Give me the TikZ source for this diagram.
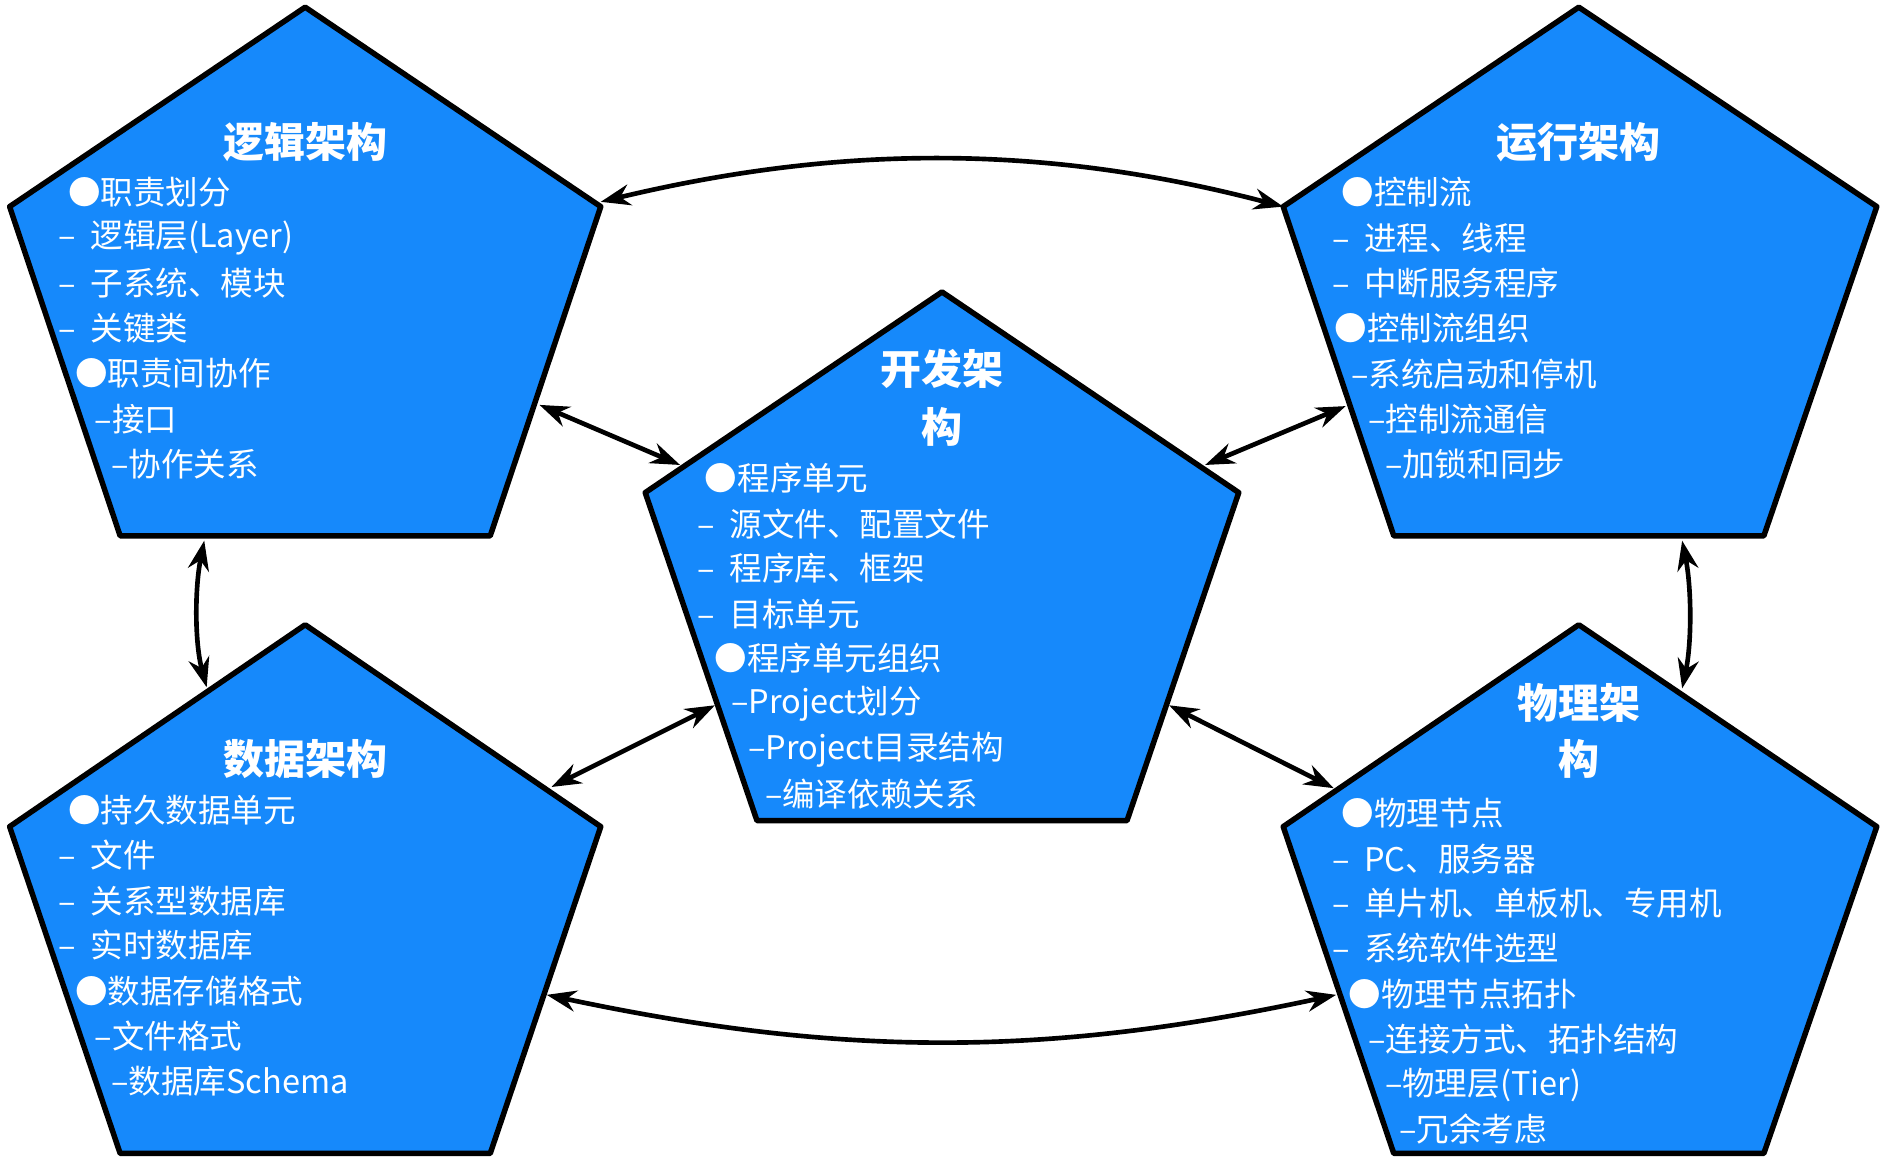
\documentclass[tikz,border=0pt]{standalone}
\usepackage{fontspec}
\setmainfont{Noto Sans CJK SC}
\usetikzlibrary{arrows.meta}
\definecolor{pent}{HTML}{1689FB}
\tikzset{
  pentagon/.style={fill=pent,draw=black,line width=1.3pt,line join=round},
  ln/.style={anchor=west,text=white,font=\fontsize{7.7pt}{9pt}\selectfont,inner sep=0pt},
  ttl/.style={text=white,font=\fontsize{9.7pt}{12pt}\selectfont\bfseries,inner sep=0pt},
  conn/.style={{Stealth[length=7pt,width=5pt]}-{Stealth[length=7pt,width=5pt]},line width=1.1pt,black}
}
\begin{document}
\begin{tikzpicture}[x=0.01cm,y=-0.01cm]
\useasboundingbox (0,0) rectangle (1568,965);
\fill[white] (0,0) rectangle (1568,965);
% pentagons
\draw[pentagon] (254,6)--(500,172)--(408,446)--(100,446)--(8,172)--cycle;
\draw[pentagon] (1314,6)--(1562,172)--(1468,446)--(1160,446)--(1068,172)--cycle;
\draw[pentagon] (784,243)--(1031,410)--(938,683)--(630,683)--(537,410)--cycle;
\draw[pentagon] (254,520)--(500,688)--(408,960)--(100,960)--(8,688)--cycle;
\draw[pentagon] (1314,520)--(1562,688)--(1468,960)--(1160,960)--(1068,688)--cycle;
% connector ends
\coordinate (a1) at (500,168); \coordinate (a2) at (1068,172);
\coordinate (b1) at (455,828); \coordinate (b2) at (1112,828);
\coordinate (c1) at (449,337); \coordinate (c2) at (566,387);
\coordinate (d1) at (1120,338); \coordinate (d2) at (1003,387);
\coordinate (e1) at (170,450); \coordinate (e2) at (172,572);
\coordinate (f1) at (1400,450); \coordinate (f2) at (1400,573);
\coordinate (g1) at (459,655); \coordinate (g2) at (595,587);
\coordinate (h1) at (973,587); \coordinate (h2) at (1110,656);
\draw[conn] (a1) .. controls (700,120) and (870,120) .. (a2);
\draw[conn] (b1) .. controls (700,880) and (870,880) .. (b2);
\draw[conn] (c1) -- (c2);
\draw[conn] (d1) -- (d2);
\draw[conn] (e1) .. controls (162,490) and (162,535) .. (e2);
\draw[conn] (f1) .. controls (1408,490) and (1408,535) .. (f2);
\draw[conn] (g1) -- (g2);
\draw[conn] (h1) -- (h2);
% TL
\node[ttl] (t1) at (254,118) {逻辑架构};
\node[ln] (l11) at (56,160) {●职责划分};
\node[ln] (l12) at (48,198) {–\ \ 逻辑层(Layer)};
\node[ln] (l13) at (48,236) {–\ \ 子系统、模块};
\node[ln] (l14) at (48,273) {–\ \ 关键类};
\node[ln] (l15) at (62,311) {●职责间协作};
\node[ln] (l16) at (78,349) {–接口};
\node[ln] (l17) at (92,386) {–协作关系};
% TR
\node[ttl] (t2) at (1314,118) {运行架构};
\node[ln] (l21) at (1116,160) {●控制流};
\node[ln] (l22) at (1108,198) {–\ \ 进程、线程};
\node[ln] (l23) at (1108,236) {–\ \ 中断服务程序};
\node[ln] (l24) at (1110,273) {●控制流组织};
\node[ln] (l25) at (1124,311) {–系统启动和停机};
\node[ln] (l26) at (1138,349) {–控制流通信};
\node[ln] (l27) at (1152,386) {–加锁和同步};
% C
\node[ttl] (t3a) at (784,307) {开发架};
\node[ttl] (t3b) at (784,355) {构};
\node[ln] (l31) at (586,398) {●程序单元};
\node[ln] (l32) at (580,436) {–\ \ 源文件、配置文件};
\node[ln] (l33) at (580,473) {–\ \ 程序库、框架};
\node[ln] (l34) at (580,511) {–\ \ 目标单元};
\node[ln] (l35) at (594,548) {●程序单元组织};
\node[ln] (l36) at (608,586) {–Project划分};
\node[ln] (l37) at (622,624) {–Project目录结构};
\node[ln] (l38) at (636,661) {–编译依赖关系};
% BL
\node[ttl] (t4) at (254,632) {数据架构};
\node[ln] (l41) at (56,674) {●持久数据单元};
\node[ln] (l42) at (48,712) {–\ \ 文件};
\node[ln] (l43) at (48,750) {–\ \ 关系型数据库};
\node[ln] (l44) at (48,787) {–\ \ 实时数据库};
\node[ln] (l45) at (62,825) {●数据存储格式};
\node[ln] (l46) at (78,862) {–文件格式};
\node[ln] (l47) at (92,900) {–数据库Schema};
% BR
\node[ttl] (t5a) at (1314,585) {物理架};
\node[ttl] (t5b) at (1314,632) {构};
\node[ln] (l51) at (1116,677) {●物理节点};
\node[ln] (l52) at (1108,715) {–\ \ PC、服务器};
\node[ln] (l53) at (1108,752) {–\ \ 单片机、单板机、专用机};
\node[ln] (l54) at (1108,789) {–\ \ 系统软件选型};
\node[ln] (l55) at (1122,827) {●物理节点拓扑};
\node[ln] (l56) at (1138,865) {–连接方式、拓扑结构};
\node[ln] (l57) at (1152,903) {–物理层(Tier)};
\node[ln] (l58) at (1164,940) {–冗余考虑};
\end{tikzpicture}
\end{document}
